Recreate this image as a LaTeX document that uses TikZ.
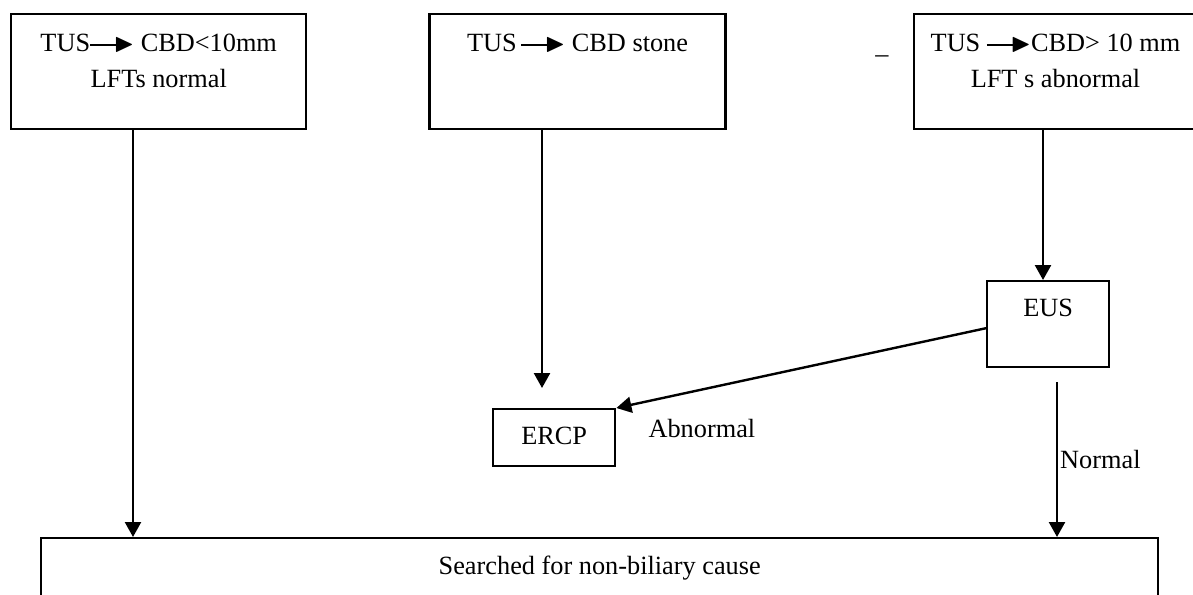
\documentclass[tikz,border=0pt]{standalone}
\usepackage{amssymb}
\usepackage{fontspec}
\setmainfont{Liberation Serif}
\usetikzlibrary{positioning}
\usetikzlibrary{arrows.meta}

\newcommand{\leadarrow}{\rule[0.21em]{1.1em}{0.08em}\kern-0.2em$\blacktriangleright$}

\begin{document}
\begin{tikzpicture}[x=1pt, y=-1pt, line width=2.4pt,
	font=\fontsize{26.3}{36}\selectfont,
	flow/.style={-{Triangle[width=16pt, length=15pt]}},
	topbox/.style={draw, inner sep=0pt, align=center, text height=73pt, text depth=42pt},
	smallbox/.style={draw, inner sep=0pt, minimum width=122pt, text height=35pt}]
				\clip (0,0) rectangle (1193,594);
				\fill[white] (0,0) rectangle (1193,594);

				% nodes
				\node[topbox, minimum width=295pt, anchor=north west] (cbdsmall) at (10,13) {TUS\leadarrow{} CBD<10mm\\LFTs normal};
				\node[topbox, text height=37pt, text depth=78pt, minimum width=296pt, right=121pt of cbdsmall] (stone) {TUS\,\leadarrow{} CBD stone};
				\node[topbox, minimum width=283pt, right=186pt of stone] (cbdlarge) {TUS \leadarrow CBD> 10 mm\\LFT s abnormal};
				\node[anchor=base, inner sep=0pt] (dash) at (882,63) {–};

				\node[smallbox, text depth=51pt, anchor=north west] (eus) at (986,280) {EUS};
				\node[smallbox, text depth=22pt, anchor=north west] (ercp) at (492,408) {ERCP};

				\node[draw, inner sep=0pt, minimum width=1117pt, text height=36pt, text depth=40pt, anchor=north west] (result) at (40,537) {Searched for non-biliary cause};

				% edges
				\coordinate (lefttrack) at (133,0);
				\coordinate (stonetrack) at (542,388);
				\coordinate (eustrack) at (1043,0);
				\coordinate (normaltrack) at (1057,382);

				\draw[flow] (lefttrack |- cbdsmall.south) -- (lefttrack |- result.north);
				\draw[flow] (stonetrack |- stone.south) -- (stonetrack);
				\draw[flow] (eustrack |- cbdlarge.south) -- (eustrack |- eus.north);
				\draw[flow] ([yshift=-4pt]eus.west) -- (ercp.north east)
					node[at end, anchor=base west, inner sep=0pt, xshift=31pt, yshift=-29pt] (abnlabel) {Abnormal};
				\draw[flow] (normaltrack) -- (normaltrack |- result.north)
					node[midway, right, inner sep=2pt] (normlabel) {Normal};
			\end{tikzpicture}
\end{document}
